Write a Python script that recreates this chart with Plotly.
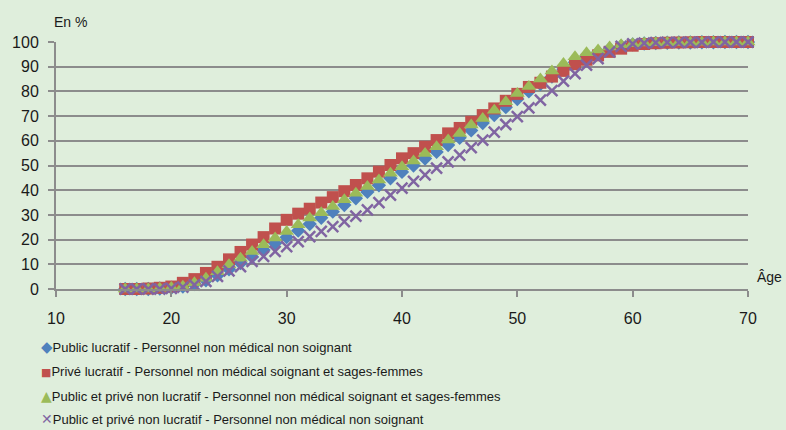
import plotly.graph_objects as go

ages = list(range(16, 71))

public_lucratif_non_soignant = [
    0, 0, 0, 0.2, 0.5, 1, 2, 3.5, 5.5, 8, 10.5, 13, 15.8, 18.5, 21, 23.6, 26.3, 28.8, 31.3, 34,
    36.7, 39.3, 42, 44.8, 47.4, 50, 52.8, 55.5, 58.3, 61.2, 64.2, 67.2, 70.4, 73.6, 76.9, 80, 83,
    86, 89, 91.8, 94, 95.8, 97.2, 98.3, 99, 99.4, 99.6, 99.7, 99.8, 99.8, 99.9, 99.9, 100, 100, 100]

prive_lucratif_soignant = [
    0, 0, 0.2, 0.5, 1, 2.5, 4, 6.5, 9, 12, 15, 18, 21, 24.5, 28, 30.5, 32.5, 35, 37.2, 39.6,
    42.1, 44.8, 47.5, 50.2, 52.9, 55, 57.6, 60.3, 63, 65.2, 67.7, 70.4, 73.1, 76.2, 79, 81.8, 83.5,
    86, 88.3, 91, 92.8, 94.6, 96, 97.3, 98.5, 99.2, 99.5, 99.7, 99.8, 99.9, 100, 100, 100, 100, 100]

pp_non_lucratif_soignant = [
    0, 0, 0, 0.3, 0.6, 1.1, 2.5, 4.4, 7, 9.8, 12.5, 15.2, 17.9, 20.6, 23.3, 26, 28.7, 30.9, 33.4,
    36.1, 38.8, 41.5, 44.1, 46.9, 49.5, 51.8, 54.9, 57.6, 60.3, 63, 66.4, 69, 72.4, 75.8, 79.2, 82,
    85, 88.3, 91.3, 94, 95.6, 96.8, 98, 98.9, 99.3, 99.6, 99.7, 99.8, 99.8, 99.9, 99.9, 100, 100, 100, 100]

pp_non_lucratif_non_soignant = [
    0, 0, 0, 0, 0.3, 0.8, 1.7, 3.1, 5.1, 7.3, 9.1, 11.2, 13.2, 15.2, 17.2, 19.2, 21.2, 23.3, 25.3,
    27.3, 29.5, 32, 35, 38, 40.8, 43.6, 46.2, 48.9, 51.5, 54.2, 57.2, 60.3, 63.5, 66.6, 69.8, 73.3,
    76.5, 80.3, 84.2, 87.2, 90.6, 93.3, 96, 98.2, 99.2, 99.5, 99.7, 99.8, 99.8, 99.9, 99.9, 100, 100, 100, 100]

series_names = [
    "Public lucratif - Personnel non médical non soignant",
    "Privé lucratif - Personnel non médical soignant et sages-femmes",
    "Public et privé non lucratif - Personnel non médical soignant et sages-femmes",
    "Public et privé non lucratif - Personnel non médical non soignant",
]
series_values = [public_lucratif_non_soignant, prive_lucratif_soignant,
                 pp_non_lucratif_soignant, pp_non_lucratif_non_soignant]
colors = ["#4F81BD", "#C0504D", "#9BBB59", "#8064A2"]
symbols = ["diamond", "square", "triangle-up", "x-thin"]
glyphs = ["◆", "■", "▲", "✕"]
glyph_sizes = [15, 11, 14, 14]
sizes = [11, 12, 13, 11]

x_ticks = [10, 20, 30, 40, 50, 60, 70]
y_ticks = [0, 10, 20, 30, 40, 50, 60, 70, 80, 90, 100]

BG = "#DFEEDC"
GRID = "#8C8C8C"
FONT = "Liberation Sans, Arial, sans-serif"

fig = go.Figure()
for name, vals, c, s, sz in zip(series_names, series_values, colors, symbols, sizes):
    marker = dict(symbol=s, size=sz, color=c)
    if s == "x-thin":
        marker["line"] = dict(color=c, width=2.5)
    else:
        marker["line"] = dict(width=0)
    fig.add_trace(go.Scatter(x=ages, y=vals, mode="markers", name=name,
                             marker=marker, showlegend=False, cliponaxis=False))

fig.update_layout(
    width=786, height=430,
    margin=dict(l=54, r=38, t=42, b=141),
    paper_bgcolor=BG, plot_bgcolor=BG,
    font=dict(family=FONT, size=16, color="#1a1a1a"),
    xaxis=dict(range=[10, 70], tickvals=x_ticks, ticks="outside", ticklen=6, tickwidth=2,
               tickcolor=GRID, showgrid=False, showline=True, linecolor=GRID, linewidth=2,
               zeroline=False, ticklabelstandoff=8, tickfont=dict(size=16)),
    yaxis=dict(range=[0, 100], tickvals=y_ticks, ticks="outside", ticklen=6, tickwidth=2,
               tickcolor=GRID, showgrid=True, gridcolor=GRID, gridwidth=2,
               showline=True, linecolor=GRID, linewidth=2, zeroline=False,
               ticklabelstandoff=6, tickfont=dict(size=16)),
)

fig.add_annotation(text="En %", xref="paper", yref="paper", x=-4 / 694, y=1 + 20 / 248,
                   xanchor="left", yanchor="middle", showarrow=False, font=dict(size=14))
fig.add_annotation(text="Âge", xref="paper", yref="paper", x=1 + 7 / 694, y=12 / 248,
                   xanchor="left", yanchor="middle", showarrow=False, font=dict(size=14))

legend_y = [347, 371.5, 396, 420]
for name, c, g, gs, yy in zip(series_names, colors, glyphs, glyph_sizes, legend_y):
    fig.add_annotation(
        text=(f'<span style="color:{c};font-size:{gs}px;font-family:DejaVu Sans">{g}</span>'
              f'{name}'),
        xref="paper", yref="paper",
        x=(37 - 54) / 694, y=(289 - yy) / 248,
        xanchor="left", yanchor="middle", showarrow=False,
        font=dict(size=13))

fig.write_html("out.html", config={"displayModeBar": False},
               post_script="document.body.style.margin='0';document.body.style.overflow='hidden';")
